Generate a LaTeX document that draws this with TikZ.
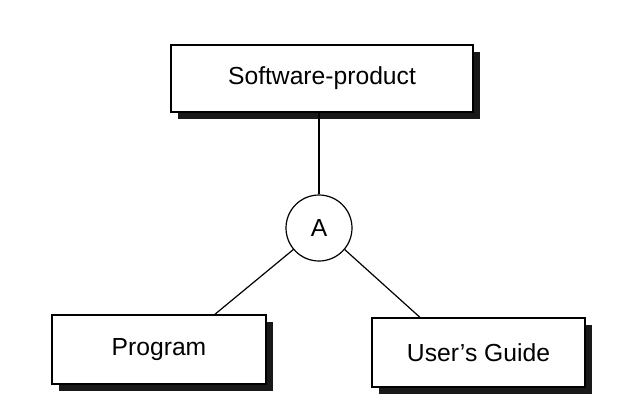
\documentclass[tikz,border=0pt]{standalone}
\usepackage{fontspec}
\setmainfont{Liberation Sans}
\usetikzlibrary{shadows}
\tikzset{
  part/.style={draw, line width=1.4pt, fill=white, inner sep=0pt,
    drop shadow={shadow xshift=5.2pt, shadow yshift=-5.2pt, opacity=1, fill=black!90}},
  andnode/.style={circle, draw, line width=0.9pt, fill=white, minimum size=49.5pt, inner sep=0pt},
  link/.style={line width=0.9pt}
}
\begin{document}
\begin{tikzpicture}
    [x=0.75pt, y=-0.75pt, every node/.style={font=\fontsize{18.5}{21}\selectfont}]
    \useasboundingbox (0,0) rectangle (617,410);
    \node [part, minimum width=226.5pt, minimum height=50pt] (product) at (322,78.5) {Software-product};
    \node [andnode] (and) at (319,228) {A};
    \node [part, minimum width=160.5pt, minimum height=51.5pt] (program) at (159,349.5) {Program};
    \node [part, minimum width=160pt, minimum height=51.5pt] (guide) at (478.5,352.5) {User’s Guide};
    \draw [link] (product.south -| and.north) -- (and.north);
    \draw [link] (and.220) -- ([xshift=42pt]program.north);
    \draw [link] (and.320) -- ([xshift=-44pt]guide.north);
\end{tikzpicture}
\end{document}
